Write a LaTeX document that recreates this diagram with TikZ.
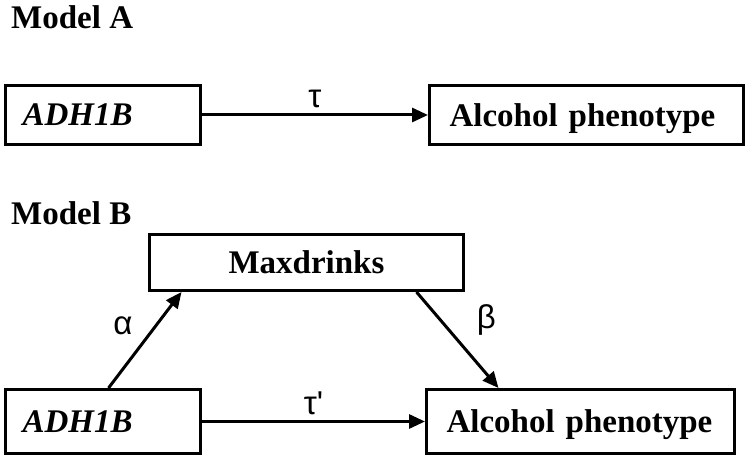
\documentclass[tikz,border=0pt]{standalone}
\usepackage{fontspec}
\setmainfont{Liberation Serif}
\newfontfamily\symfont{Liberation Sans}
\usetikzlibrary{arrows.meta}

\begin{document}
\begin{tikzpicture}[x=1pt,y=1pt,
	box/.style={draw,line width=3pt,text depth=0pt,font=\fontsize{33}{40}\selectfont\bfseries},
	gene/.style={box,text width=161pt,inner xsep=17pt,align=left,font=\fontsize{33}{40}\selectfont\bfseries\itshape},
	pheno/.style={box,text width=274pt,inner xsep=20pt,align=left},
	coef/.style={font=\fontsize{33}{40}\selectfont\symfont,inner sep=2pt},
	effect/.style={line width=3pt,-{Triangle[length=16pt,width=14pt]}},
	title/.style={anchor=base west,inner sep=0pt,font=\fontsize{33}{40}\selectfont\bfseries}]
	\useasboundingbox (0,0) rectangle (747,458);
	
	\node[title] (titleA) at (11,429) {Model A};
	\node[gene,minimum height=59pt] (geneA) at (103,343) {ADH1B};
	\node[pheno,minimum height=59pt] (phenoA) at (586.5,343) {Alcohol phenotype};
	\draw[effect] (geneA) -- (phenoA) node[coef,midway,above=4pt] {τ};
	
	\node[title] (titleB) at (11,233) {Model B};
	\node[box,text width=274pt,inner xsep=20pt,align=center,minimum height=56pt] (mediator) at (306.5,195.5) {Maxdrinks};
	\node[gene,minimum height=64pt] (geneB) at (103,36.5) {ADH1B};
	\node[pheno,text width=268pt,minimum height=64pt] (phenoB) at (580.5,36.5) {Alcohol phenotype};
	\draw[effect] ([xshift=104.5pt]geneB.north west) -- ([xshift=33.5pt]mediator.south west) node[coef,pos=0.65,left=20pt] {α};
	\draw[effect] ([xshift=268.5pt]mediator.south west) -- ([xshift=73.5pt]phenoB.north west) node[coef,pos=0.29,right=33pt] {β};
	\draw[effect] (geneB) -- (phenoB) node[coef,midway,above=3pt] {τ\textquotesingle};
\end{tikzpicture}
\end{document}
